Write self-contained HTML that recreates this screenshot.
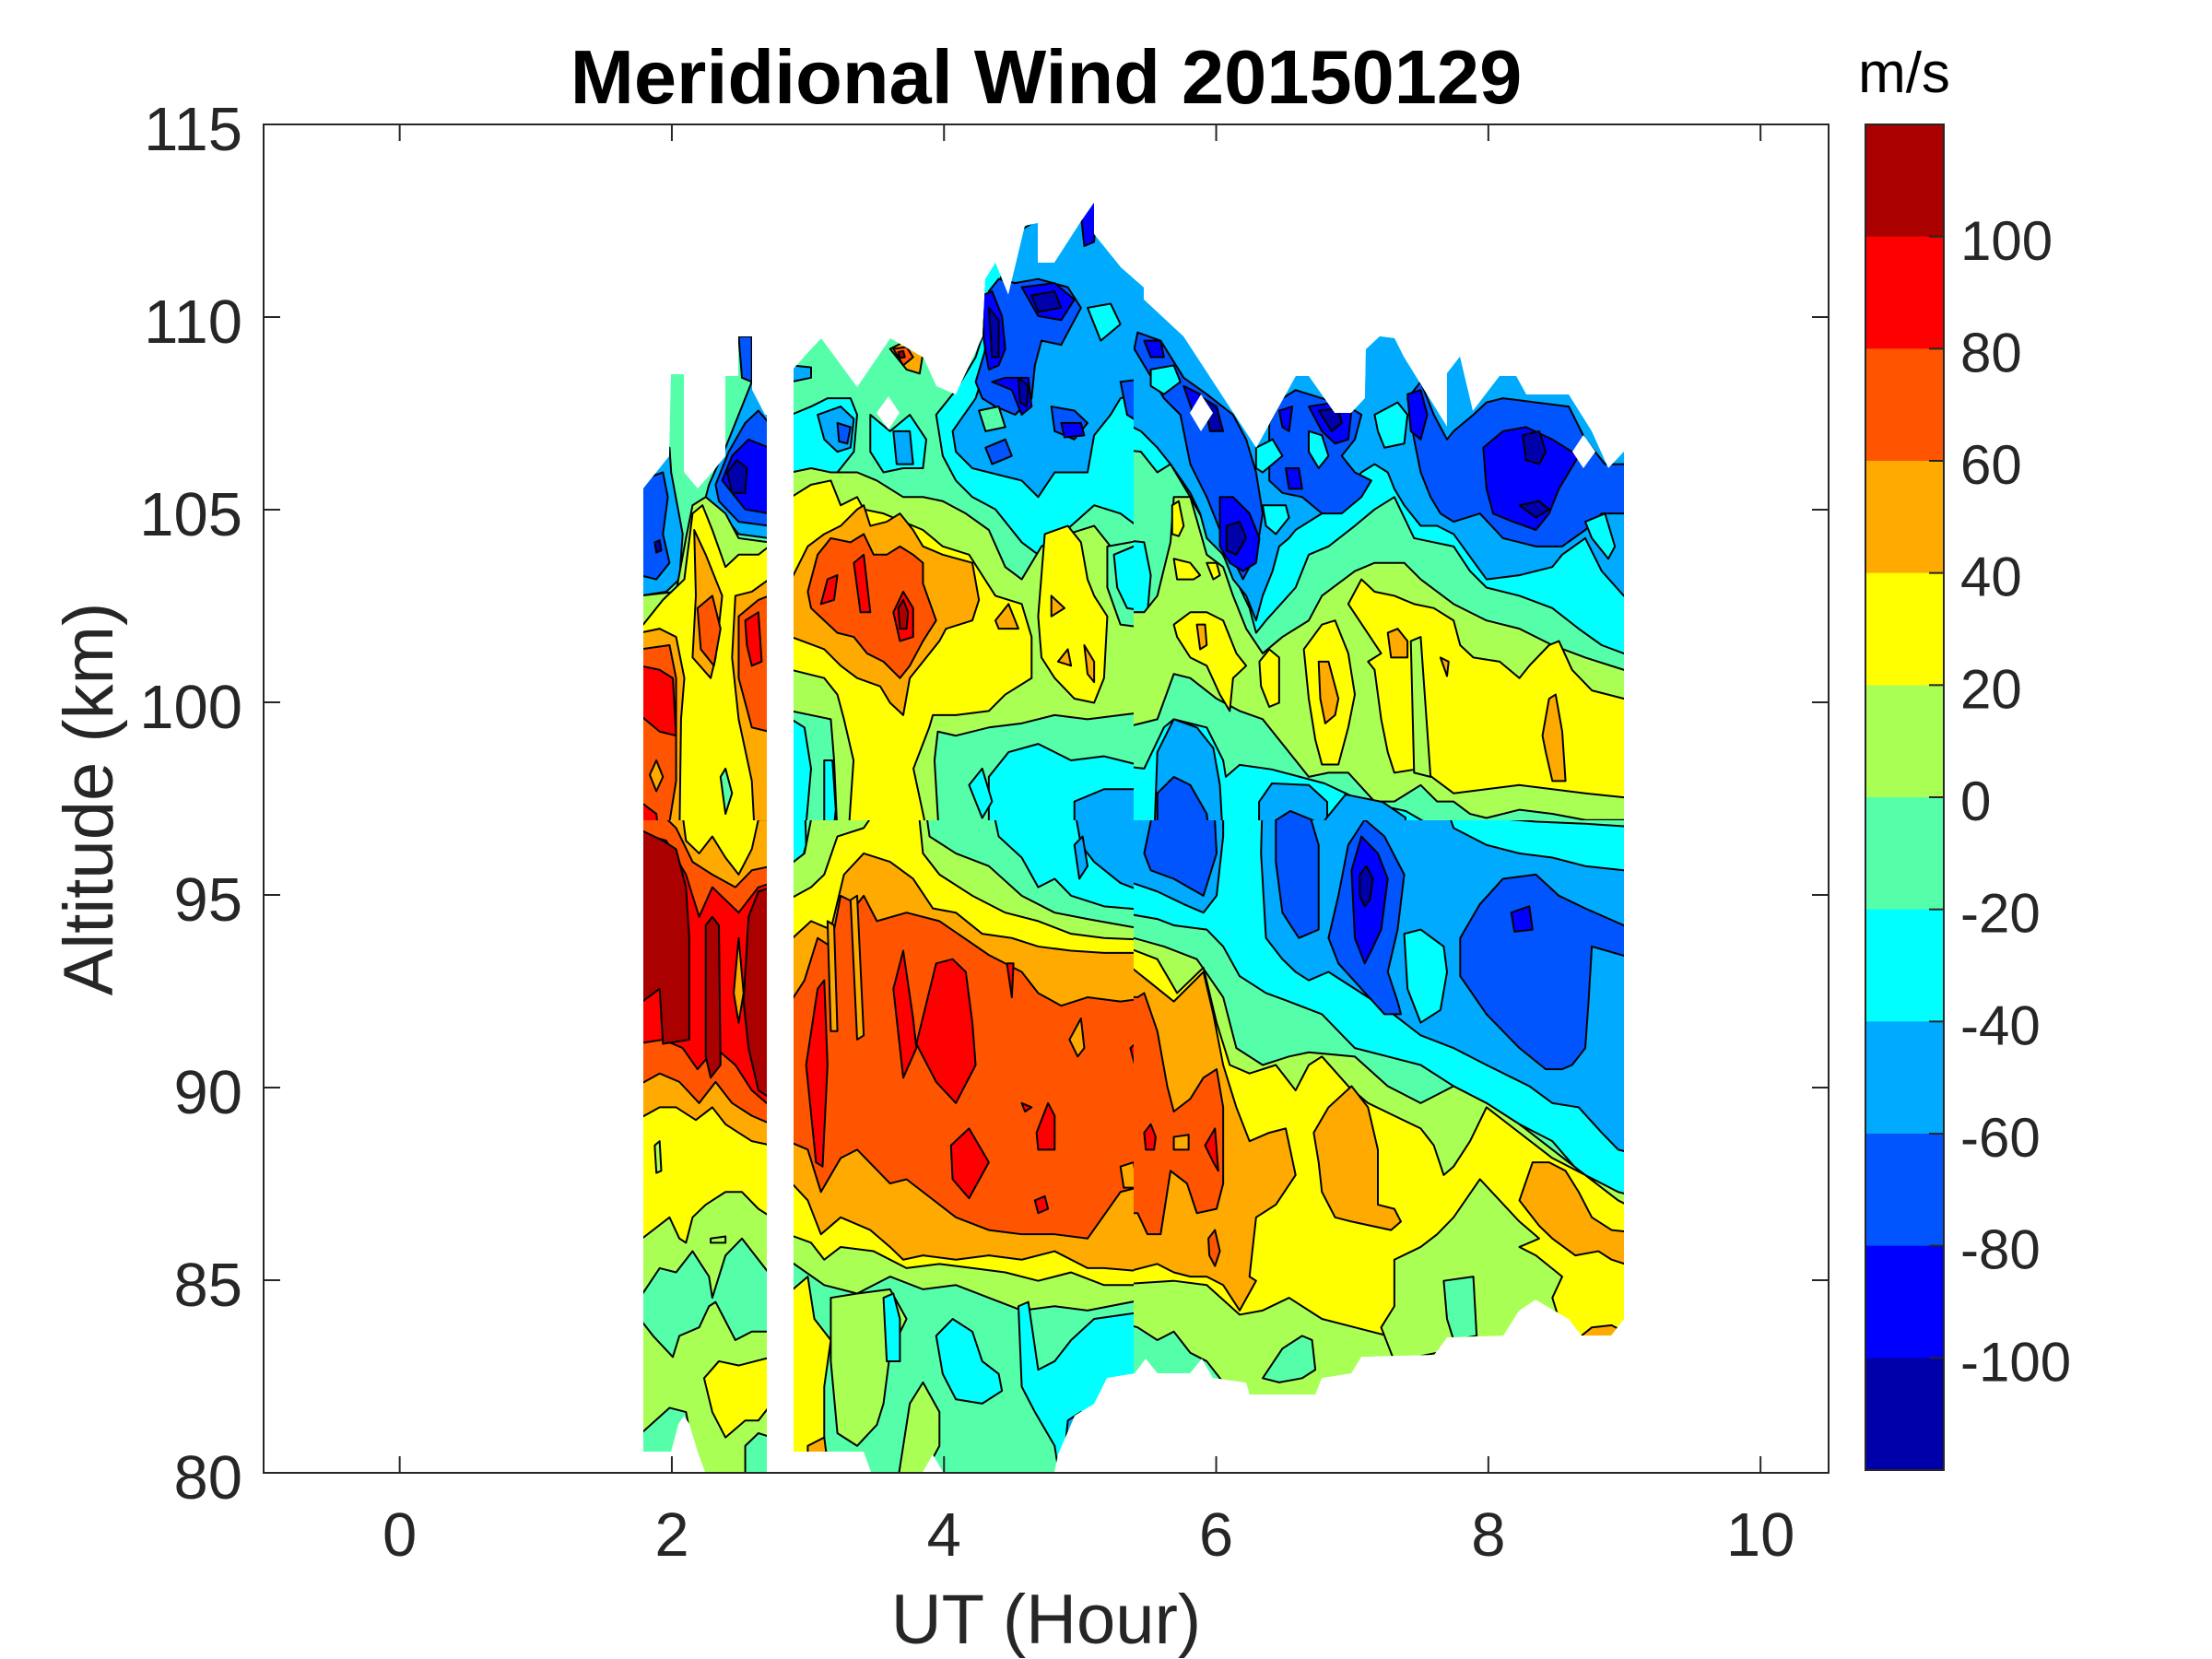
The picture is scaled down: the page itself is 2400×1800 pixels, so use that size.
<!DOCTYPE html>
<html>
<head>
<meta charset="utf-8">
<style>
html,body{margin:0;padding:0;background:#fff;}
svg{display:block;}
.c0{fill:#0000AA}.c1{fill:#0000FF}.c2{fill:#0055FF}.c3{fill:#00AAFF}.c4{fill:#00FFFF}.c5{fill:#55FFAA}
.c6{fill:#AAFF55}.c7{fill:#FFFF00}.c8{fill:#FFAA00}.c9{fill:#FF5500}.c10{fill:#FF0000}.c11{fill:#AA0000}
.d polygon{stroke:#000;stroke-width:2;vector-effect:non-scaling-stroke;stroke-linejoin:round}
text{font-family:"Liberation Sans",Arial,sans-serif;fill:#262626}
</style>
</head>
<body>
<svg width="2400" height="1800" viewBox="0 0 2400 1800" xmlns="http://www.w3.org/2000/svg">
<rect x="0" y="0" width="2400" height="1800" fill="#fff"/>
<defs>
<clipPath id="mask">
<polygon points="698,530 726,495 728,406 742,406 742,512 757,530 773,512 787,495 787,408 801,408 801,365 816,365 816,423 830,450 832,450 832,1597 765,1597 757,1575 748,1545 742,1536 736,1545 728,1575 698,1575"/>
<polygon points="861,400 876,383 891,367 930,420 966,367 1002,388 1016,419 1037,428 1066,365 1069,303 1080,285 1094,320 1112,245 1126,242 1126,285 1144,285 1173,240 1187,220 1187,254 1216,290 1241,312 1241,325 1284,365 1363,486 1406,408 1420,408 1448,448 1466,448 1481,432 1482,379 1497,365 1513,367 1523,387 1570,463 1570,405 1584,387 1598,446 1627,408 1645,408 1656,428 1702,428 1727,468 1745,508 1762,490 1762,1431 1748,1449 1716,1449 1702,1431 1666,1410 1648,1422 1631,1449 1570,1451 1556,1470 1477,1472 1466,1490 1434,1495 1427,1513 1356,1513 1352,1500 1316,1495 1304,1474 1291,1490 1256,1490 1243,1474 1231,1490 1201,1495 1187,1523 1166,1536 1148,1578 1144,1597 1023,1597 1012,1578 1001,1597 945,1597 937,1575 861,1575"/>
</clipPath>
<clipPath id="cz4"><rect x="600" y="100" width="630" height="790"/></clipPath>
<clipPath id="cz5"><rect x="1230" y="100" width="600" height="790"/></clipPath>
<clipPath id="cz6"><rect x="600" y="890" width="630" height="750"/></clipPath>
<clipPath id="cz7"><rect x="1230" y="890" width="600" height="750"/></clipPath>
</defs>

<g clip-path="url(#mask)" class="d">
<!-- ZONE 4 -->
<g clip-path="url(#cz4)"><g transform="translate(680,200) scale(0.357143,0.446429)">
<rect x="-100" y="-100" width="1800" height="1800" class="c5"/>
<polygon class="c3" points="40,680 130,640 135,700 170,850 160,960 120,990 40,1000"/>
<polygon class="c2" points="40,720 110,700 125,760 110,850 130,920 90,960 40,950"/>
<polygon class="c0" points="85,870 100,865 105,890 90,895"/>
<polygon class="c3" points="250,730 300,640 340,560 380,480 432,520 432,860 340,850 290,800 240,760"/>
<polygon class="c2" points="270,730 310,650 360,580 400,550 432,580 432,830 340,820 280,770"/>
<polygon class="c1" points="290,720 320,660 370,620 432,640 432,800 360,790"/>
<polygon class="c0" points="305,700 335,670 365,690 360,750 320,750"/>
<polygon class="c2" points="340,370 380,370 380,480 350,470"/>
<polygon class="c6" points="40,1000 150,990 180,860 200,780 240,760 300,800 340,860 432,870 432,1600 40,1600"/>
<polygon class="c7" points="40,1080 110,1010 175,960 200,800 230,780 260,840 300,930 340,900 400,900 432,880 432,1600 40,1600"/>
<polygon class="c8" points="40,1090 100,1080 150,1100 175,1200 165,1300 160,1600 40,1600"/>
<polygon class="c8" points="205,840 240,900 290,1000 270,1150 255,1200 200,1150 210,1000"/>
<polygon class="c8" points="330,1000 380,990 432,960 432,1600 390,1600 380,1450 340,1300 320,1150"/>
<polygon class="c9" points="40,1130 130,1120 150,1200 150,1450 120,1600 40,1600"/>
<polygon class="c9" points="215,1030 260,1000 285,1080 265,1170 225,1130"/>
<polygon class="c9" points="340,1050 400,1010 432,1000 432,1330 380,1320 340,1200"/>
<polygon class="c10" points="40,1170 100,1180 140,1200 150,1340 100,1330 40,1290"/>
<polygon class="c10" points="360,1060 400,1040 410,1160 380,1170 365,1120"/>
<polygon class="c8" points="70,1435 90,1400 110,1440 90,1475"/>
<polygon class="c10" points="40,1500 90,1530 100,1600 40,1600"/>
<polygon class="c5" points="285,1440 300,1420 320,1480 300,1530"/>
<!-- main top-left -->
<polygon class="c4" points="500,560 560,540 610,520 680,520 700,560 690,650 640,700 560,700 500,700"/>
<polygon class="c3" points="580,560 650,540 690,570 680,640 640,650 600,620"/>
<polygon class="c2" points="640,580 680,590 670,630 645,625"/>
<polygon class="c4" points="740,560 800,600 860,560 910,620 900,690 840,690 780,700 740,650"/>
<polygon class="c3" points="810,600 860,600 870,680 820,680"/>
<polygon class="c3" points="500,440 560,445 560,470 500,480"/>
<polygon class="c8" points="800,400 850,380 900,410 890,460 850,450"/>
<polygon class="c9" points="810,400 850,395 870,420 840,440"/>
<polygon class="c11" points="825,408 840,405 845,420 830,422"/>
<!-- main top-right blues -->
<polygon class="c4" points="940,560 1000,500 1060,420 1080,370 1090,0 1600,0 1600,860 1500,800 1420,780 1350,830 1280,880 1250,900 1200,870 1160,830 1120,790 1050,760 1000,720 960,660"/>
<polygon class="c3" points="990,600 1060,520 1080,470 1100,300 1140,220 1180,120 1260,80 1300,170 1360,40 1600,40 1600,500 1500,520 1470,560 1420,610 1400,700 1300,700 1250,760 1200,720 1100,700 1050,690 1000,650"/>
<polygon class="c2" points="1060,480 1090,400 1100,260 1130,230 1180,240 1250,230 1340,250 1380,300 1320,390 1260,380 1240,440 1230,520 1180,560 1120,540 1080,520"/>
<polygon class="c2" points="1290,540 1360,550 1400,580 1360,620 1300,600"/>
<polygon class="c2" points="1090,640 1150,620 1170,660 1110,680"/>
<polygon class="c2" points="1500,480 1600,470 1600,600 1520,560"/>
<polygon class="c1" points="1080,270 1110,260 1140,320 1150,400 1130,440 1100,450 1085,380"/>
<polygon class="c1" points="1200,250 1300,240 1360,280 1320,330 1250,320"/>
<polygon class="c1" points="1110,480 1150,470 1220,470 1230,540 1200,560 1170,500"/>
<polygon class="c1" points="1320,580 1380,580 1390,610 1330,615"/>
<polygon class="c1" points="1370,0 1430,0 1420,140 1390,150"/>
<polygon class="c0" points="1100,300 1130,330 1130,420 1110,420"/>
<polygon class="c0" points="1230,270 1300,260 1320,300 1250,310"/>
<polygon class="c0" points="1190,470 1220,490 1215,540 1195,530"/>
<polygon class="c4" points="1400,300 1470,290 1500,340 1440,380"/>
<polygon class="c5" points="1070,550 1130,540 1150,590 1090,600"/>
<!-- orange / yellow -->
<polygon class="c6" points="500,700 560,690 620,700 700,700 760,720 840,760 900,760 960,770 1030,800 1100,840 1150,930 1200,960 1260,880 1300,860 1420,830 1470,880 1600,880 1600,1280 1500,1290 1400,1300 1300,1290 1200,1310 1100,1320 1000,1340 945,1330 935,1400 950,1600 641,1600 630,1400 620,1300 500,1280"/>
<polygon class="c5" points="1460,880 1600,860 1600,1080 1500,1070 1460,980"/>
<polygon class="c4" points="1480,900 1540,880 1600,890 1600,1040 1520,1030 1490,980"/>
<polygon class="c7" points="500,760 560,730 620,720 650,780 700,760 720,790 780,800 840,820 900,840 960,880 1040,900 1080,950 1120,1000 1200,1020 1230,1100 1230,1200 1150,1240 1100,1280 1000,1290 930,1290 919,1320 871,1420 919,1600 672,1600 689,1400 660,1300 640,1240 600,1200 500,1180"/>
<polygon class="c7" points="1270,850 1340,830 1380,870 1400,960 1420,1000 1460,1050 1450,1200 1420,1260 1360,1250 1300,1200 1260,1150 1250,1050 1260,950"/>
<polygon class="c8" points="500,960 550,880 600,850 650,830 700,790 720,780 740,830 790,820 830,800 870,840 900,880 960,900 1050,920 1070,1010 1050,1060 970,1080 950,1110 900,1160 860,1200 840,1290 800,1260 770,1220 700,1200 650,1170 600,1130 500,1100"/>
<polygon class="c8" points="1120,1060 1160,1020 1190,1080 1130,1080"/>
<polygon class="c8" points="1290,1000 1330,1030 1290,1050"/>
<polygon class="c8" points="1310,1160 1340,1130 1350,1170"/>
<polygon class="c8" points="1390,1120 1420,1160 1420,1210 1400,1190"/>
<polygon class="c9" points="550,990 580,900 620,860 680,870 720,850 750,900 790,900 830,880 870,900 900,920 900,970 940,1060 900,1110 860,1170 830,1200 780,1160 730,1140 690,1100 640,1090 600,1060 560,1030"/>
<polygon class="c10" points="590,1020 610,960 640,950 630,1010"/>
<polygon class="c10" points="690,920 720,900 740,1040 710,1040"/>
<polygon class="c10" points="810,1040 840,990 870,1030 870,1100 830,1110"/>
<polygon class="c11" points="825,1030 840,1010 855,1040 850,1080 830,1080"/>
<!-- lower -->
<polygon class="c4" points="1100,1440 1160,1380 1250,1360 1350,1400 1450,1390 1600,1420 1600,1600 1100,1600"/>
<polygon class="c3" points="1360,1500 1450,1470 1600,1470 1600,1600 1360,1600"/>
<polygon class="c4" points="500,1300 540,1320 560,1420 540,1600 500,1600"/>
<polygon class="c4" points="600,1400 625,1400 635,1520 625,1600 600,1600"/>
<polygon class="c4" points="1040,1460 1080,1420 1110,1500 1080,1540"/>
</g></g>

<!-- ZONE 5 -->
<g clip-path="url(#cz5)"><g transform="translate(1220,200) scale(0.357143,0.446429)">
<rect x="-100" y="-100" width="1800" height="1800" class="c5"/>
<polygon class="c4" points="-50,0 1600,0 1600,1150 1517,1140 1450,1120 1380,1080 1300,1030 1200,1000 1100,980 1050,940 1000,880 880,860 820,760 760,790 700,830 620,880 560,900 520,980 430,1060 400,1090 380,1030 320,930 270,860 200,760 140,680 100,700 50,650 -50,640"/>
<polygon class="c3" points="-50,0 1600,0 1600,1000 1517,1000 1450,940 1400,860 1330,900 1300,930 1200,950 1100,960 1000,850 950,830 900,830 850,780 820,740 800,700 760,680 720,700 660,760 600,800 560,820 520,840 500,860 470,880 450,940 420,1000 400,1060 370,1000 330,960 300,900 250,860 230,800 200,750 140,680 100,640 50,600 -50,560"/>
<polygon class="c2" points="40,360 110,380 180,470 250,510 330,560 370,620 400,700 420,800 400,900 360,960 300,860 250,760 200,680 170,560 120,520 60,440 30,400"/>
<polygon class="c2" points="440,580 480,520 520,500 560,510 600,520 680,540 720,560 700,620 660,660 700,700 750,720 720,760 660,800 600,800 540,760 480,750 440,720"/>
<polygon class="c2" points="860,520 900,480 940,560 980,620 1000,600 1060,560 1100,530 1150,520 1250,530 1350,540 1400,620 1460,680 1600,680 1600,800 1450,800 1400,840 1330,880 1250,880 1150,860 1080,800 1000,820 960,800 930,760 900,700 880,620"/>
<polygon class="c4" points="80,450 150,440 170,480 120,510 80,490"/>
<polygon class="c4" points="400,640 450,620 480,660 420,700 400,690"/>
<polygon class="c4" points="560,600 600,610 620,660 590,690 560,650"/>
<polygon class="c4" points="760,560 830,530 860,560 850,630 790,640 770,600"/>
<polygon class="c4" points="420,780 490,780 500,810 460,850 430,830"/>
<polygon class="c4" points="1400,820 1460,800 1490,880 1470,910 1420,860"/>
<polygon class="c1" points="290,760 330,760 380,800 410,860 400,920 360,940 320,920 290,880"/>
<polygon class="c1" points="560,540 640,530 690,550 680,620 640,630 600,600"/>
<polygon class="c1" points="490,690 530,690 540,740 500,740"/>
<polygon class="c1" points="1090,640 1150,600 1220,590 1300,620 1380,660 1320,740 1290,800 1250,840 1180,820 1120,800 1100,740"/>
<polygon class="c1" points="470,550 510,540 500,600 480,590"/>
<polygon class="c1" points="860,510 900,500 920,560 900,620 870,600"/>
<polygon class="c1" points="60,380 110,380 120,420 80,420"/>
<polygon class="c1" points="180,490 230,510 240,560 210,560"/>
<polygon class="c0" points="310,830 350,820 370,860 340,900 310,890"/>
<polygon class="c0" points="590,550 650,545 660,580 630,600"/>
<polygon class="c0" points="1210,610 1260,600 1280,650 1260,680 1220,670"/>
<polygon class="c0" points="1200,780 1260,770 1290,790 1250,810"/>
<polygon class="c0" points="240,520 280,540 300,600 260,600"/>
<polygon class="c4" points="-50,860 60,870 80,950 70,1040 -50,1040"/>
<polygon class="c6" points="-50,1040 60,1040 100,1000 140,870 150,760 200,760 250,900 300,930 330,1000 370,1080 420,1140 480,1100 560,1060 600,1000 700,940 760,920 850,920 900,960 1000,1020 1100,1060 1200,1080 1300,1120 1400,1150 1517,1180 1600,1180 1600,1600 -50,1600"/>
<polygon class="c5" points="-50,1330 100,1300 150,1190 200,1200 280,1250 350,1280 420,1300 500,1380 560,1440 620,1430 680,1430 760,1500 820,1500 900,1460 950,1500 1000,1500 1050,1530 1100,1540 1200,1520 1300,1530 1400,1545 1517,1545 1600,1545 1600,1600 -50,1600"/>
<polygon class="c4" points="-50,1410 60,1420 120,1320 150,1300 250,1320 300,1400 308,1440 350,1411 448,1422 608,1456 728,1501 854,1523 952,1568 960,1600 -50,1600"/>
<polygon class="c3" points="90,1600 100,1380 150,1300 220,1320 270,1370 290,1460 300,1600"/>
<polygon class="c3" points="409,1501 448,1456 560,1460 616,1501 616,1600 409,1600"/>
<polygon class="c3" points="608,1546 672,1483 784,1501 854,1539 854,1600 608,1600"/>
<polygon class="c2" points="100,1480 150,1440 200,1460 250,1530 260,1600 100,1600"/>
<polygon class="c2" points="459,1546 504,1523 574,1546 574,1600 459,1600"/>
<polygon class="c7" points="150,1070 200,1040 250,1040 300,1060 340,1140 370,1170 330,1200 320,1280 290,1240 250,1170 200,1150 160,1100"/>
<polygon class="c7" points="410,1160 440,1130 470,1150 470,1260 440,1270 415,1220"/>
<polygon class="c7" points="545,1130 600,1070 640,1060 680,1140 700,1240 680,1320 650,1410 600,1410 580,1350 560,1250"/>
<polygon class="c7" points="680,1020 720,960 760,990 820,1000 880,1020 940,1030 1000,1060 1020,1120 1060,1150 1140,1160 1200,1200 1230,1170 1290,1120 1320,1110 1360,1180 1420,1230 1517,1250 1600,1250 1600,1480 1517,1490 1400,1480 1300,1470 1200,1460 1100,1470 1000,1480 950,1450 900,1420 820,1430 800,1380 780,1300 760,1180 740,1160 780,1140"/>
<polygon class="c6" points="870,1110 900,1100 930,1440 880,1430"/>
<polygon class="c8" points="590,1160 620,1160 650,1250 640,1290 610,1310 595,1250"/>
<polygon class="c8" points="800,1090 830,1080 860,1110 860,1150 810,1150"/>
<polygon class="c8" points="960,1150 985,1160 980,1195"/>
<polygon class="c8" points="1290,1250 1310,1240 1330,1330 1340,1450 1300,1450 1280,1380 1270,1340"/>
<polygon class="c8" points="220,1070 245,1070 250,1120 230,1130"/>
<polygon class="c7" points="145,780 165,770 180,830 165,855 145,850"/>
<polygon class="c7" points="150,910 200,920 230,950 210,960 160,960"/>
<polygon class="c7" points="250,920 280,920 290,950 270,960"/>
</g></g>

<!-- ZONE 6 -->
<g clip-path="url(#cz6)"><g transform="translate(680,880) scale(0.357143,0.459184)">
<rect x="-100" y="-100" width="1800" height="1800" class="c5"/>
<polygon class="c6" points="30,-50 440,-50 440,1600 30,1600"/>
<polygon class="c5" points="40,1150 100,1080 150,1090 200,1040 250,1100 260,1150 300,1050 350,1010 400,1060 440,1100 440,1230 380,1230 330,1250 270,1160 250,1170 220,1220 160,1240 140,1290 80,1240 40,1200"/>
<polygon class="c5" points="30,1480 130,1410 180,1420 200,1500 230,1600 30,1600"/>
<polygon class="c5" points="360,1500 400,1470 440,1480 440,1600 360,1600"/>
<polygon class="c7" points="235,1340 280,1300 340,1310 440,1290 440,1400 400,1440 360,1440 300,1480 260,1420"/>
<polygon class="c7" points="30,1020 130,960 160,1010 180,1020 200,960 240,930 300,900 350,900 400,940 440,960 440,-50 30,-50"/>
<polygon class="c8" points="30,-50 160,-50 180,70 220,100 260,60 300,110 340,150 380,90 400,20 440,20 440,790 380,780 300,740 260,700 210,730 150,700 100,700 30,730"/>
<polygon class="c9" points="30,-50 150,40 200,120 260,150 330,180 380,140 440,130 440,740 380,720 320,690 270,640 220,690 160,640 100,620 30,650"/>
<polygon class="c10" points="30,50 120,70 180,150 220,250 260,180 300,210 340,240 400,180 440,170 440,700 380,660 330,600 270,560 215,610 170,560 110,540 30,550"/>
<polygon class="c11" points="30,40 110,70 150,90 180,180 190,300 190,540 110,550 100,420 30,460"/>
<polygon class="c11" points="240,270 260,250 280,270 285,600 255,630 240,580"/>
<polygon class="c11" points="370,250 400,190 440,180 440,680 400,660 370,560 355,450"/>
<polygon class="c8" points="325,430 340,300 355,430 340,500"/>
<polygon class="c6" points="85,790 100,780 105,850 90,855"/>
<polygon class="c6" points="255,1010 300,1005 300,1020 255,1020"/>
<!-- main -->
<polygon class="c4" points="490,-50 540,-50 545,80 520,150 490,170"/>
<polygon class="c4" points="1100,-50 1600,-50 1600,235 1450,225 1350,200 1300,160 1250,180 1200,110 1130,60"/>
<polygon class="c3" points="1350,-50 1600,-50 1600,200 1500,170 1420,120 1380,80"/>
<polygon class="c3" points="1360,80 1385,60 1400,130 1375,160"/>
<polygon class="c6" points="490,130 540,100 560,20 600,-50 900,-50 920,60 1000,100 1100,130 1200,200 1300,240 1400,255 1600,283 1600,1150 1400,1180 1300,1170 1200,1180 1100,1150 1000,1120 900,1130 800,1100 700,1140 600,1120 490,1060"/>
<polygon class="c7" points="490,210 560,180 600,150 640,60 720,40 800,-50 880,-50 900,100 950,150 1050,200 1150,240 1250,260 1350,290 1450,300 1600,305 1600,1120 1450,1120 1350,1090 1250,1110 1150,1090 1050,1080 950,1070 850,1080 750,1040 650,1030 600,1060 560,1020 490,1000"/>
<polygon class="c8" points="490,310 560,260 620,280 660,150 720,100 800,120 870,160 930,230 1000,240 1080,290 1170,300 1250,320 1350,330 1450,335 1600,335 1600,1090 1450,1080 1400,1080 1300,1040 1200,1060 1100,1050 1000,1060 900,1050 840,1060 800,1030 740,990 650,960 590,1000 550,920 490,870"/>
<polygon class="c9" points="490,460 540,400 580,300 620,320 650,200 700,220 720,200 760,260 850,240 950,260 1100,340 1200,380 1250,430 1320,460 1400,440 1500,450 1600,440 1600,880 1500,900 1400,1010 1300,1000 1200,1000 1100,990 1000,960 900,900 850,870 800,880 700,800 650,820 590,900 550,800 490,780"/>
<polygon class="c8" points="1345,540 1380,490 1390,560 1370,580"/>
<polygon class="c8" points="1500,840 1540,830 1550,890 1510,890"/>
<polygon class="c8" points="610,260 630,270 640,520 620,520"/>
<polygon class="c8" points="680,210 700,200 720,530 700,540"/>
<polygon class="c10" points="545,600 580,420 600,400 610,600 595,840 575,830"/>
<polygon class="c10" points="810,420 840,330 870,490 880,560 840,630"/>
<polygon class="c10" points="880,550 940,360 990,350 1030,380 1050,500 1060,600 1000,690 940,640"/>
<polygon class="c10" points="985,790 1040,750 1100,830 1040,915 990,870"/>
<polygon class="c10" points="1245,760 1280,690 1300,720 1300,800 1250,800"/>
<polygon class="c10" points="1155,360 1175,360 1170,440"/>
<polygon class="c10" points="1200,690 1230,700 1210,710"/>
<polygon class="c10" points="1240,920 1270,910 1280,940 1250,950"/>
<polygon class="c10" points="1530,560 1560,540 1580,600 1550,620"/>
<polygon class="c7" points="490,1140 550,1100 570,1200 620,1250 600,1360 600,1600 490,1600"/>
<polygon class="c6" points="620,1150 700,1140 800,1130 850,1200 800,1280 780,1400 760,1450 700,1500 640,1470 620,1300"/>
<polygon class="c6" points="860,1400 900,1350 950,1420 950,1500 880,1600 820,1600"/>
<polygon class="c4" points="940,1240 990,1200 1050,1230 1080,1300 1130,1330 1140,1370 1080,1400 1000,1390 960,1330"/>
<polygon class="c4" points="780,1150 810,1140 830,1200 830,1300 790,1300"/>
<polygon class="c4" points="1190,1170 1220,1160 1250,1320 1300,1300 1350,1250 1420,1200 1600,1180 1600,1600 1320,1600 1300,1500 1240,1420 1200,1360"/>
<polygon class="c3" points="1340,1440 1380,1420 1410,1470 1400,1540 1350,1600 1320,1600"/>
<polygon class="c8" points="550,1500 600,1480 620,1600 550,1600"/>
</g></g>

<!-- ZONE 7 -->
<g clip-path="url(#cz7)"><g transform="translate(1220,880) scale(0.357143,0.459184)">
<rect x="-100" y="-100" width="1800" height="1800" class="c5"/>
<polygon class="c4" points="-50,-50 1000,-50 1100,15 1250,25 1400,30 1600,40 1600,960 1500,930 1400,870 1300,780 1200,740 1100,690 1000,650 900,600 800,580 700,560 600,480 500,450 430,430 350,390 300,320 250,280 150,270 100,255 -50,235"/>
<polygon class="c3" points="-50,-50 300,-50 300,60 280,200 240,240 180,220 100,190 -50,150"/>
<polygon class="c3" points="420,-50 960,-50 1000,40 1100,80 1200,100 1300,110 1400,130 1517,140 1600,140 1600,820 1500,800 1450,760 1380,700 1300,690 1230,650 1100,600 1000,560 900,530 850,500 800,470 700,420 620,380 560,400 520,380 480,350 430,300 415,100"/>
<polygon class="c4" points="850,290 900,280 970,320 980,380 960,470 900,500 860,420"/>
<polygon class="c2" points="60,100 100,-50 270,-50 280,100 240,200 150,160 80,140"/>
<polygon class="c2" points="460,20 540,-50 590,80 590,280 530,300 480,240 460,120"/>
<polygon class="c2" points="620,300 650,200 680,80 730,20 790,60 850,150 830,280 800,380 830,450 840,480 790,480 720,420 650,360"/>
<polygon class="c2" points="1020,300 1080,220 1150,160 1250,150 1320,200 1400,230 1517,270 1600,270 1600,360 1420,320 1410,450 1400,560 1360,600 1330,610 1280,610 1200,560 1100,480 1020,390"/>
<polygon class="c1" points="690,140 720,60 770,100 800,160 780,280 750,330 730,360 700,300"/>
<polygon class="c1" points="1175,240 1230,225 1240,280 1185,285"/>
<polygon class="c0" points="715,150 735,130 755,160 745,210 730,225 715,200"/>
<polygon class="c6" points="-50,283 120,320 220,350 300,440 340,560 420,600 500,580 560,570 700,580 800,650 900,690 1000,650 1100,690 1200,740 1300,800 1400,860 1500,900 1600,920 1600,1600 -50,1600"/>
<polygon class="c7" points="-50,305 100,350 160,430 240,370 280,500 320,600 380,620 460,600 520,660 560,600 600,580 680,650 740,690 820,720 900,750 940,790 970,860 1000,840 1050,780 1100,700 1200,760 1300,820 1400,860 1500,920 1600,960 1600,1240 1400,1250 1200,1260 1000,1280 800,1240 700,1220 600,1200 500,1150 420,1180 350,1190 250,1120 150,1110 -50,1120"/>
<polygon class="c6" points="820,1060 900,1030 950,1000 1000,960 1080,870 1200,970 1260,1010 1200,1030 1250,1050 1330,1100 1300,1150 1340,1250 1200,1260 1100,1260 950,1280 820,1300 780,1220 820,1170"/>
<polygon class="c8" points="-50,326 70,400 150,450 240,380 270,480 300,600 340,700 380,780 440,760 490,750 520,860 460,930 400,960 380,1100 400,1110 350,1180 300,1120 250,1100 200,1100 150,1090 100,1070 -50,1100"/>
<polygon class="c8" points="575,760 620,700 690,650 740,700 770,800 770,930 820,940 840,970 810,990 690,970 640,960 600,900 590,830"/>
<polygon class="c8" points="1200,920 1240,830 1290,830 1340,850 1380,900 1420,960 1480,990 1600,1000 1600,1090 1480,1060 1440,1040 1370,1050 1300,1010 1260,980"/>
<polygon class="c8" points="1380,1245 1420,1220 1480,1215 1517,1230 1600,1230 1600,1270 1380,1270"/>
<polygon class="c9" points="-50,435 40,440 60,430 100,520 130,650 150,710 200,680 240,630 280,610 300,700 300,880 280,940 220,950 190,880 140,850 110,1000 70,1000 40,950 -50,950"/>
<polygon class="c10" points="60,760 80,740 95,770 90,800 65,800"/>
<polygon class="c10" points="245,790 275,750 285,850 270,830"/>
<polygon class="c8" points="150,770 195,765 195,800 150,800"/>
<polygon class="c9" points="255,1010 275,990 290,1040 275,1075 258,1050"/>
<polygon class="c5" points="970,1110 1060,1100 1070,1240 1000,1250 980,1200"/>
<polygon class="c5" points="420,1340 480,1270 540,1240 570,1250 580,1320 540,1340 470,1350"/>
<polygon class="c5" points="-50,1200 40,1220 100,1250 150,1230 200,1280 250,1300 300,1350 300,1420 -50,1420"/>
</g></g>
</g>

<!-- white holes -->
<polygon points="951,448 964,430 976,448 964,466" fill="#fff"/>
<polygon points="1291,448 1303,428 1316,448 1303,468" fill="#fff"/>
<polygon points="1706,490 1718,472 1731,490 1718,508" fill="#fff"/>

<!-- axes frame -->
<rect x="286" y="135" width="1698" height="1463" fill="none" stroke="#262626" stroke-width="2"/>
<g stroke="#262626" stroke-width="2">
<line x1="433.65" y1="1598" x2="433.65" y2="1580"/><line x1="728.95" y1="1598" x2="728.95" y2="1580"/>
<line x1="1024.25" y1="1598" x2="1024.25" y2="1580"/><line x1="1319.55" y1="1598" x2="1319.55" y2="1580"/>
<line x1="1614.85" y1="1598" x2="1614.85" y2="1580"/><line x1="1910.15" y1="1598" x2="1910.15" y2="1580"/>
<line x1="433.65" y1="135" x2="433.65" y2="153"/><line x1="728.95" y1="135" x2="728.95" y2="153"/>
<line x1="1024.25" y1="135" x2="1024.25" y2="153"/><line x1="1319.55" y1="135" x2="1319.55" y2="153"/>
<line x1="1614.85" y1="135" x2="1614.85" y2="153"/><line x1="1910.15" y1="135" x2="1910.15" y2="153"/>
<line x1="286" y1="344" x2="304" y2="344"/><line x1="286" y1="553" x2="304" y2="553"/>
<line x1="286" y1="762" x2="304" y2="762"/><line x1="286" y1="971" x2="304" y2="971"/>
<line x1="286" y1="1180" x2="304" y2="1180"/><line x1="286" y1="1389" x2="304" y2="1389"/>
<line x1="1984" y1="344" x2="1966" y2="344"/><line x1="1984" y1="553" x2="1966" y2="553"/>
<line x1="1984" y1="762" x2="1966" y2="762"/><line x1="1984" y1="971" x2="1966" y2="971"/>
<line x1="1984" y1="1180" x2="1966" y2="1180"/><line x1="1984" y1="1389" x2="1966" y2="1389"/>
</g>

<!-- y tick labels -->
<g font-size="67" text-anchor="end">
<text x="263" y="163">115</text>
<text x="263" y="372">110</text>
<text x="263" y="581">105</text>
<text x="263" y="790">100</text>
<text x="263" y="999">95</text>
<text x="263" y="1208">90</text>
<text x="263" y="1417">85</text>
<text x="263" y="1626">80</text>
</g>
<!-- x tick labels -->
<g font-size="67" text-anchor="middle">
<text x="433.65" y="1688">0</text>
<text x="728.95" y="1688">2</text>
<text x="1024.25" y="1688">4</text>
<text x="1319.55" y="1688">6</text>
<text x="1614.85" y="1688">8</text>
<text x="1910.15" y="1688">10</text>
</g>
<text x="1135" y="1783" font-size="76" text-anchor="middle">UT (Hour)</text>
<text transform="translate(122,867) rotate(-90)" font-size="76" text-anchor="middle">Altitude (km)</text>
<text x="1135" y="112" font-size="83" font-weight="bold" text-anchor="middle" style="fill:#000">Meridional Wind 20150129</text>

<!-- colorbar -->
<g>
<rect x="2024" y="135" width="85" height="122" fill="#AA0000"/>
<rect x="2024" y="256.67" width="85" height="122" fill="#FF0000"/>
<rect x="2024" y="378.33" width="85" height="122" fill="#FF5500"/>
<rect x="2024" y="500" width="85" height="122" fill="#FFAA00"/>
<rect x="2024" y="621.67" width="85" height="122" fill="#FFFF00"/>
<rect x="2024" y="743.33" width="85" height="122" fill="#AAFF55"/>
<rect x="2024" y="865" width="85" height="122" fill="#55FFAA"/>
<rect x="2024" y="986.67" width="85" height="122" fill="#00FFFF"/>
<rect x="2024" y="1108.33" width="85" height="122" fill="#00AAFF"/>
<rect x="2024" y="1230" width="85" height="122" fill="#0055FF"/>
<rect x="2024" y="1351.67" width="85" height="122" fill="#0000FF"/>
<rect x="2024" y="1473.33" width="85" height="121.67" fill="#0000AA"/>
<rect x="2024" y="135" width="85" height="1460" fill="none" stroke="#262626" stroke-width="2"/>
<g stroke="#262626" stroke-width="2">
<line x1="2109" y1="256.67" x2="2093" y2="256.67"/><line x1="2109" y1="378.33" x2="2093" y2="378.33"/>
<line x1="2109" y1="500" x2="2093" y2="500"/><line x1="2109" y1="621.67" x2="2093" y2="621.67"/>
<line x1="2109" y1="743.33" x2="2093" y2="743.33"/><line x1="2109" y1="865" x2="2093" y2="865"/>
<line x1="2109" y1="986.67" x2="2093" y2="986.67"/><line x1="2109" y1="1108.33" x2="2093" y2="1108.33"/>
<line x1="2109" y1="1230" x2="2093" y2="1230"/><line x1="2109" y1="1351.67" x2="2093" y2="1351.67"/>
<line x1="2109" y1="1473.33" x2="2093" y2="1473.33"/>
</g>
<g font-size="60" text-anchor="start">
<text x="2127" y="282">100</text>
<text x="2127" y="403.5">80</text>
<text x="2127" y="525">60</text>
<text x="2127" y="646.7">40</text>
<text x="2127" y="768.3">20</text>
<text x="2127" y="890">0</text>
<text x="2127" y="1011.7">-20</text>
<text x="2127" y="1133.3">-40</text>
<text x="2127" y="1255">-60</text>
<text x="2127" y="1376.7">-80</text>
<text x="2127" y="1498.3">-100</text>
</g>
<text x="2066" y="100" font-size="62" text-anchor="middle" style="fill:#000">m/s</text>
</g>
</svg>
</body>
</html>
